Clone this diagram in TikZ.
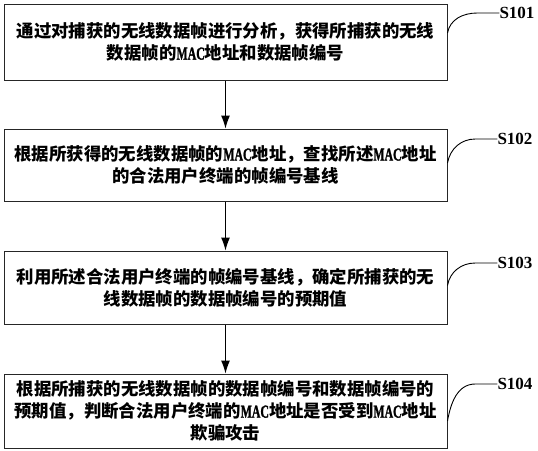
\documentclass[tikz,border=0pt]{standalone}
\usepackage{fontspec}
\setmainfont{Liberation Serif}
\newfontfamily\cjk{Noto Sans CJK SC}
\newfontfamily\macfont{Liberation Serif Bold}[FakeBold=1.6]
\usetikzlibrary{arrows.meta,positioning}
\newcommand\mac{\scalebox{0.68}[1.05]{\macfont MAC}}
\tikzset{%
	process/.style = {draw=black!85, line width=1pt, rectangle, minimum width=443pt, text width=435pt, align=center, inner sep=0pt, font=\cjk\bfseries\fontsize{17.4}{22}\selectfont},
	arrow/.style   = {line width=1pt, -{Latex[length=13pt,width=9pt]}},
	tag/.style     = {font=\bfseries\fontsize{17}{20}\selectfont, inner sep=0pt},
	leader/.style  = {line width=0.9pt},
}
\begin{document}
\begin{tikzpicture}
		\useasboundingbox (0,0) rectangle (538pt,-450pt);
		\node[process, minimum height=76pt] (box1) at (225.5pt,-42pt) {通过对捕获的无线数据帧进行分析，获得所捕获的无线\\数据帧的\mac 地址和数据帧编号};
		\node[process, minimum height=72pt] (box2) at (225.5pt,-165pt) {根据所获得的无线数据帧的\mac 地址，查找所述\mac 地址\\的合法用户终端的帧编号基线};
		\node[process, minimum height=73pt] (box3) at (225.5pt,-287.5pt) {利用所述合法用户终端的帧编号基线，确定所捕获的无\\线数据帧的数据帧编号的预期值};
		\node[process, minimum height=74pt] (box4) at (225.5pt,-411pt) {根据所捕获的无线数据帧的数据帧编号和数据帧编号的\\预期值，判断合法用户终端的\mac 地址是否受到\mac 地址\\欺骗攻击};
		
		\draw[arrow] (box1) -- (box2);
		\draw[arrow] (box2) -- (box3);
		\draw[arrow] (box3) -- (box4);
		
		\node[tag] (tag1) at (517pt,-13pt) {S101};
		\node[tag] (tag2) at (515pt,-139pt) {S102};
		\node[tag] (tag3) at (515pt,-263pt) {S103};
		\node[tag] (tag4) at (515pt,-384pt) {S104};
		\draw[leader] ([yshift=9pt]box1.east) to[out=80,in=180] ([xshift=-22pt]tag1.west) -- (tag1.west);
		\draw[leader] ([yshift=2pt]box2.east) to[out=80,in=180] ([xshift=-22pt]tag2.west) -- (tag2.west);
		\draw[leader] ([yshift=2pt]box3.east) to[out=80,in=180] ([xshift=-22pt]tag3.west) -- (tag3.west);
		\draw[leader] ([yshift=-10pt]box4.east) to[out=80,in=180] ([xshift=-22pt]tag4.west) -- (tag4.west);
\end{tikzpicture}
\end{document}
